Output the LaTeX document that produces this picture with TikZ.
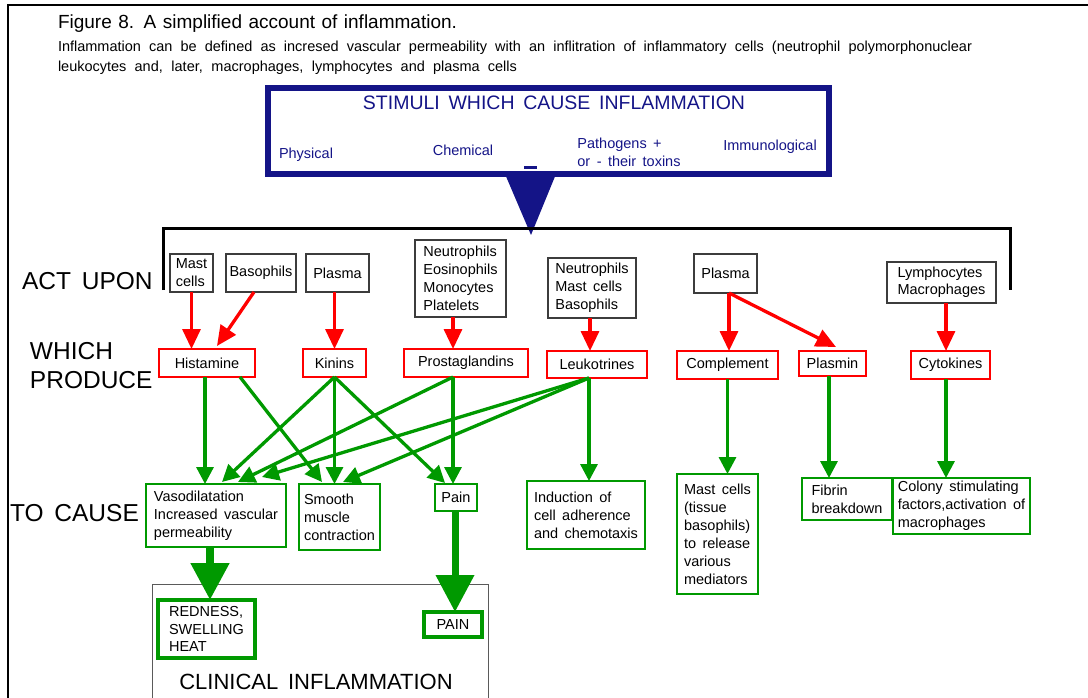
\documentclass[tikz,border=0pt]{standalone}
\usepackage{fontspec}
\setmainfont{Liberation Sans}[WordSpace=1.6]
\usetikzlibrary{arrows.meta}

\definecolor{stimblue}{RGB}{20,20,135}
\definecolor{prodred}{RGB}{255,0,0}
\definecolor{effgreen}{RGB}{0,153,0}
\definecolor{cellgray}{RGB}{60,60,60}
\definecolor{framegray}{RGB}{90,90,90}

\newcommand\fs[2]{\fontsize{#1}{#2}\selectfont}

% box from its two corners: style, name, x1, y1, x2, y2, text
\newcommand\boxnode[7]{%
  \node[#1, minimum width={(#5-#3)*1pt}, minimum height={(#6-#4)*1pt}]
    (#2) at ({(#3+#5)/2},{(#4+#6)/2}) {#7};}

\tikzset{
  every node/.style={font=\fs{14.5}{18}, inner sep=0pt, outer sep=0pt, text=black},
  cellbox/.style={draw=cellgray, line width=1.1pt, align=left},
  medbox/.style={draw=prodred, line width=2.4pt},
  effbox/.style={draw=effgreen, line width=2.5pt, align=left},
  signbox/.style={draw=effgreen, line width=4pt, align=left, font=\fs{14.5}{17.5}},
  clinframe/.style={draw=framegray, line width=1pt},
  stimtext/.style={text=stimblue, align=left},
  rowlabel/.style={font=\fs{24.5}{29}, align=left},
  redarrow/.style={draw=prodred, line width=3.3pt, -{Triangle[width=18pt,length=20pt]}},
  greenarrow/.style={draw=effgreen, line width=3.3pt, -{Triangle[width=17pt,length=17pt]}},
  bigarrow/.style={draw=effgreen, line width=8pt, -{Triangle[width=37pt,length=37pt]}},
}

\begin{document}
\begin{tikzpicture}[x=1pt,y=-1pt]
\useasboundingbox (0,0) rectangle (1088,698);

% page frame (top and left rules)
\draw[line width=2pt] (8,698) -- (8,5) -- (1088,5);

% heading
\node[anchor=base west, font=\fs{19}{22}] (title) at (58,29)
  {\makebox[399pt][s]{Figure 8. A simplified account of inflammation.}};
\node[anchor=base west, font=\fs{14.5}{19}] (introA) at (58,52)
  {\makebox[914pt][s]{Inflammation can be defined as incresed vascular permeability with an inflitration of inflammatory cells (neutrophil polymorphonuclear}};
\node[anchor=base west, font=\fs{14.5}{19}] (introB) at (58,72)
  {\makebox[459pt][s]{leukocytes and, later, macrophages, lymphocytes and plasma cells}};

% stimuli box
\boxnode{draw=stimblue, line width=6pt}{stimuli}{268}{88}{829}{174}{}
\node[stimtext, font=\fs{19.5}{22}] (stimtitle) at (554,103) {STIMULI WHICH CAUSE INFLAMMATION};
\node[stimtext] (physical) at (306,155) {Physical};
\node[stimtext] (chemical) at (463,150) {Chemical};
\node[stimtext] (pathogens) at (629,152) {Pathogens +\\or - their toxins};
\node[stimtext] (immuno) at (770,147) {Immunological};
\draw[stimblue, line width=3pt] ([xshift=-24.5pt, yshift=6pt]stimuli.south) -- ([xshift=-11.5pt, yshift=6pt]stimuli.south);
\coordinate (apex) at (531,235);
\fill[stimblue] ([xshift=-43.5pt]stimuli.south) -- ([xshift=7.5pt]stimuli.south) -- (apex) -- cycle;

% bracket over the cells
\coordinate (brL) at (163,290);
\coordinate (brR) at (1010,290);
\draw[line width=3pt] (brL) |- (brR |- 0,229) -- (brR);

% row labels
\node[rowlabel, anchor=base west] (actupon) at (22,289) {ACT UPON};
\node[rowlabel, anchor=west] (produce) at (30,365.5) {WHICH\\PRODUCE};
\node[rowlabel, anchor=base west] (tocause) at (10,521) {TO CAUSE};

% cells acted upon
\boxnode{cellbox}{mast}{170}{254}{213}{292}{Mast\\cells}
\boxnode{cellbox}{baso}{226}{254}{296}{292}{Basophils}
\boxnode{cellbox}{plasmaA}{306}{254}{369}{292}{Plasma}
\boxnode{cellbox}{neutA}{415}{240}{506}{317}{Neutrophils\\Eosinophils\\Monocytes\\Platelets}
\boxnode{cellbox}{neutB}{548}{258}{636}{318}{Neutrophils\\Mast cells\\Basophils}
\boxnode{cellbox}{plasmaB}{694}{254}{757}{293}{Plasma}
\boxnode{cellbox, font=\fs{14.5}{17}}{lymph}{887}{262}{996}{303}{Lymphocytes\\Macrophages}

% mediators produced
\boxnode{medbox}{hist}{159}{349}{255}{377}{Histamine}
\boxnode{medbox}{kinins}{303}{349}{366}{377}{Kinins}
\boxnode{medbox}{prost}{404}{349}{528}{377}{Prostaglandins}
\boxnode{medbox}{leuko}{547}{351}{647}{378}{Leukotrines}
\boxnode{medbox}{compl}{677}{351}{778}{379}{Complement}
\boxnode{medbox}{plasmin}{799}{351}{866}{376}{Plasmin}
\boxnode{medbox}{cyto}{911}{351}{990}{379}{Cytokines}

% effects
\boxnode{effbox}{vaso}{146}{484}{286}{547}{Vasodilatation\\Increased vascular\\permeability}
\boxnode{effbox}{smooth}{299}{484}{380}{550}{Smooth\\muscle\\contraction}
\boxnode{effbox}{pain}{435}{484}{477}{511}{Pain}
\boxnode{effbox}{induc}{527}{481}{645}{549}{Induction of\\cell adherence\\and chemotaxis}
\boxnode{effbox}{mastt}{677}{474}{758}{594}{Mast cells\\(tissue\\basophils)\\to release\\various\\mediators}
\boxnode{effbox}{fibrin}{802}{478}{892}{520}{Fibrin\\breakdown}
\boxnode{effbox}{colony}{893}{478}{1030}{534}{Colony stimulating\\factors,activation of\\macrophages}

% clinical inflammation
\boxnode{clinframe}{clinical}{152}{584}{488}{720}{}
\node[font=\fs{22}{26}] (clintitle) at (316,682) {CLINICAL INFLAMMATION};
\boxnode{signbox}{redness}{158}{600}{255}{658}{REDNESS,\\SWELLING\\HEAT}
\boxnode{signbox}{painsign}{424}{612}{482}{637}{PAIN}

% cells -> mediators
\draw[redarrow] (mast.south) -- (mast.south |- hist.north);
\draw[redarrow] ([xshift=-7pt]baso.south) -- ([xshift=10pt, yshift=3pt]hist.north);
\draw[redarrow] (kinins.north |- plasmaA.south) -- (kinins.north);
\draw[redarrow] ([xshift=-7.5pt]neutA.south) coordinate (nA) -- (nA |- prost.north);
\draw[redarrow] ([xshift=-2pt]neutB.south) coordinate (nB) -- (nB |- leuko.north);
\draw[redarrow] ([xshift=3.5pt]plasmaB.south) coordinate (pB) -- (pB |- compl.north);
\draw[redarrow] (pB) -- ([xshift=3.5pt, yshift=4pt]plasmin.north);
\draw[redarrow] ([xshift=4.5pt]lymph.south) coordinate (ly) -- (ly |- cyto.north);

% mediators -> effects
\draw[greenarrow] ([xshift=-2pt]hist.south) coordinate (hA) -- (hA |- vaso.north);
\draw[greenarrow] ([xshift=33pt]hist.south) -- ([xshift=-17.5pt, yshift=2pt]smooth.north);
\draw[greenarrow] (kinins.south) -- ([xshift=6pt, yshift=2pt]vaso.north);
\draw[greenarrow] (kinins.south) -- (kinins.south |- smooth.north);
\draw[greenarrow] (kinins.south) -- ([xshift=-11pt, yshift=1pt]pain.north);
\draw[greenarrow] ([xshift=-13pt]prost.south) coordinate (pr) -- ([xshift=22pt, yshift=2pt]vaso.north);
\draw[greenarrow] (pr) -- (pr |- pain.north);
\draw[greenarrow] ([xshift=-8pt]leuko.south) coordinate (lk) -- ([xshift=46pt, yshift=7pt]vaso.north);
\draw[greenarrow] (lk) -- ([xshift=3.5pt, yshift=2pt]smooth.north);
\draw[greenarrow] (lk) -- (lk |- induc.north);
\draw[greenarrow] (compl.south) -- (compl.south |- mastt.north);
\draw[greenarrow] ([xshift=-3.5pt]plasmin.south) coordinate (pl) -- (pl |- fibrin.north);
\draw[greenarrow] ([xshift=-4.5pt]cyto.south) coordinate (cy) -- (cy |- colony.north);

% effects -> clinical signs
\draw[bigarrow] ([xshift=-6pt]vaso.south) coordinate (vs) -- (vs |- redness.north);
\draw[bigarrow, line width=7pt] ([xshift=-1pt]pain.south) coordinate (ps) -- (ps |- painsign.north);

\end{tikzpicture}
\end{document}
